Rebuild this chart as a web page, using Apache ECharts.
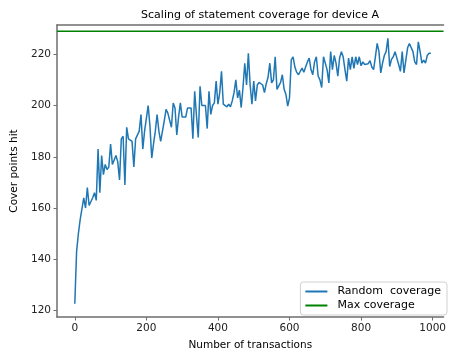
<!DOCTYPE html>
<html>
<head>
<meta charset="utf-8">
<script src="https://cdn.jsdelivr.net/npm/echarts@6/dist/echarts.min.js"></script>
<style>
  html, body { margin: 0; padding: 0; background: #fff; }
  #chart { width: 449px; height: 356px; }
</style>
</head>
<body>
<div id="chart"></div>
<script>
// Transactions are sampled every 5 steps, starting at 0
const stepSize = 5;
const randomCoverage = [
  122.7, 143, 150, 155.5, 155.5, 164, 160, 168, 161, 160.5,
  164, 166, 163, 183, 166, 180.5, 173, 177, 175, 176,
  185, 177, 177, 180.5, 178, 171, 187, 188, 169, 191.5,
  187, 187, 186, 176, 187, 187, 190, 196.5, 183, 190,
  195, 200, 192, 179.5, 185, 190, 196.5, 190, 186, 185.5,
  194, 198.5, 197, 197, 191.5, 201, 199, 188.5, 195.5, 201,
  195.5, 195, 195.5, 199, 199, 199, 187, 205.5, 196, 187.5,
  207.5, 200, 200.5, 200, 191, 205.5, 196.5, 200, 201, 209.5,
  200.5, 205, 213.3, 200.5, 200.5, 199.5, 200.5, 199.5, 201.8, 205,
  210, 203, 206, 199.2, 207, 216.5, 208, 220.4, 208, 200.5,
  209.5, 201.8, 208, 209, 209.5, 208, 205, 208.5, 211, 216.5,
  208.8, 210, 219, 206.3, 206, 209, 212, 206.3, 204.3, 199.8,
  203, 217.8, 219, 215, 213, 212, 211.5, 214.6, 213, 215,
  217, 218.5, 214, 212, 217, 219, 211.5, 210, 207, 219,
  218.5, 214, 208.8, 221, 214, 219.5, 216.5, 211.4, 218.5, 221,
  219, 214, 209.5, 218.5, 214, 219, 214.5, 219, 216, 219,
  215.5, 217, 216, 216.5, 216.3, 217.5, 215, 214, 219, 224.2,
  221, 212.7, 216.5, 219.5, 221, 226.2, 215.2, 218, 219, 221,
  221, 216, 213.3, 221, 212.7, 212.7, 222.5, 224.2, 224, 221,
  217, 216, 224.8, 221, 216.5, 217.7, 216.5, 219.5, 220.4, 220.4
];
const maxCoverage = 229;
const xTicks = [0, 200, 400, 600, 800, 1000];
const yTicks = [120, 140, 160, 180, 200, 220];

// The plot runs past the right edge of the page, so the right spine is not shown
const xMin = -49.75, xMax = 1030.5;
const yMin = 117.5, yMax = 231.4;

const randomPoints = randomCoverage.map((v, i) => [i * stepSize, v]);
const maxPoints = [[xMin, maxCoverage], [xMax, maxCoverage]];

const font = 'DejaVu Sans';
const spine = '#6e6e6e';
const chart = echarts.init(document.getElementById('chart'), null, { renderer: 'canvas' });
chart.setOption({
  animation: false,
  backgroundColor: '#fff',
  textStyle: { fontFamily: font },
  title: {
    text: 'Scaling of statement coverage for device A',
    left: 255, top: 5, textAlign: 'center',
    textStyle: { fontFamily: font, fontSize: 11, fontWeight: 'normal', color: '#000' }
  },
  grid: { left: 57, right: 0, top: 25, bottom: 36 },
  legend: {
    orient: 'vertical', right: 2, bottom: 41,
    padding: [4, 6, 4, 5], itemGap: 3,
    itemWidth: 22, itemHeight: 2, icon: 'rect',
    backgroundColor: '#fff', borderColor: '#d0d0d0', borderWidth: 1, borderRadius: 3,
    textStyle: { fontFamily: font, fontSize: 11, color: '#000', padding: [0, 0, 0, 5] },
    data: ['Random  coverage', 'Max coverage']
  },
  xAxis: [
    {
      type: 'value', min: xMin, max: xMax, position: 'bottom',
      name: 'Number of transactions', nameLocation: 'middle', nameGap: 23,
      nameTextStyle: { fontFamily: font, fontSize: 10.5, color: '#000' },
      splitLine: { show: false },
      axisLine: { show: true, onZero: false, lineStyle: { color: spine, width: 1.5 } },
      axisTick: { show: true, length: 3.5, customValues: xTicks, lineStyle: { color: spine } },
      axisLabel: {
        customValues: xTicks, margin: 6, fontFamily: font, fontSize: 10.5, color: '#222',
        formatter: v => String(v)
      }
    },
    {
      // top spine
      type: 'value', min: xMin, max: xMax, position: 'top',
      splitLine: { show: false },
      axisLine: { show: true, onZero: false, lineStyle: { color: spine, width: 1.5 } },
      axisTick: { show: false },
      axisLabel: { show: false }
    }
  ],
  yAxis: {
    type: 'value', min: yMin, max: yMax,
    name: 'Cover points hit', nameLocation: 'middle', nameGap: 34,
    nameTextStyle: { fontFamily: font, fontSize: 10.5, color: '#000' },
    splitLine: { show: false },
    axisLine: { show: true, onZero: false, lineStyle: { color: spine, width: 1.5 } },
    axisTick: { show: true, length: 3.5, customValues: yTicks, lineStyle: { color: spine } },
    axisLabel: { customValues: yTicks, margin: 6, fontFamily: font, fontSize: 10.5, color: '#222' }
  },
  series: [
    {
      name: 'Random  coverage', type: 'line', data: randomPoints,
      showSymbol: false, symbol: 'none',
      lineStyle: { color: '#1f77b4', width: 1.5 }, itemStyle: { color: '#1f77b4' }
    },
    {
      name: 'Max coverage', type: 'line', data: maxPoints,
      showSymbol: false, symbol: 'none',
      lineStyle: { color: '#008000', width: 1.5 }, itemStyle: { color: '#008000' }
    }
  ]
});
</script>
</body>
</html>
